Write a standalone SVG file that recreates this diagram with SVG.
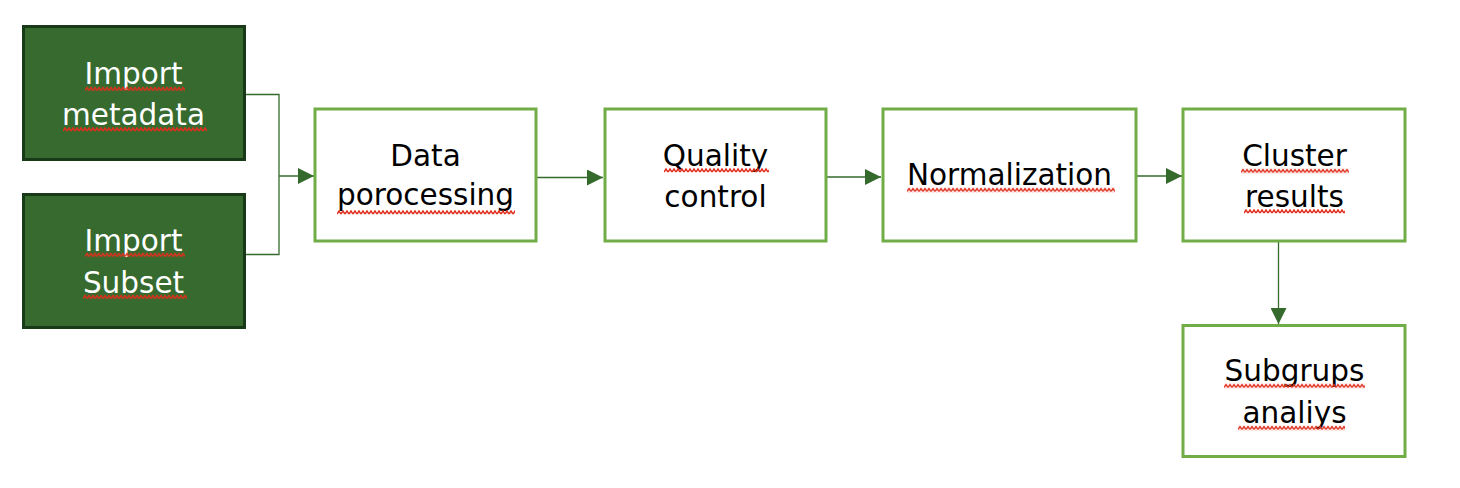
<svg xmlns="http://www.w3.org/2000/svg" width="1460" height="488" viewBox="0 0 1460 488">
<style>
.dark{fill:#366a2e;stroke:#193a17;stroke-width:3}
.box{fill:#fff;stroke:#70ad47;stroke-width:3}
.t{font-family:"DejaVu Sans","Liberation Sans",sans-serif;font-size:29.5px;text-anchor:middle;fill:#000}
.w{fill:#fff}
.con{fill:none;stroke:#356a2d;stroke-width:1.3}
.sq{fill:url(#wave)}
</style>
<defs>
<pattern id="wave" patternUnits="userSpaceOnUse" width="4" height="5">
<path d="M0,4 L2,1 L4,4" fill="none" stroke="#e0301e" stroke-width="1.5"/>
</pattern>
<marker id="ah" markerUnits="userSpaceOnUse" markerWidth="16" markerHeight="16" refX="16" refY="8" orient="auto">
<path d="M0,0 L16,8 L0,16 Z" fill="#356a2d"/>
</marker>
</defs>
<rect width="1460" height="488" fill="#fff"/>
<g id="connectors">
<path class="con" d="M245,94.5 H279 V254.5 H245"/>
<path class="con" d="M279,176 H314" marker-end="url(#ah)"/>
<path class="con" d="M537,177.5 H603" marker-end="url(#ah)"/>
<path class="con" d="M827,177 H881" marker-end="url(#ah)"/>
<path class="con" d="M1137,176 H1182" marker-end="url(#ah)"/>
<path class="con" d="M1278.5,242 V324" marker-end="url(#ah)"/>
</g>
<g id="import-metadata">
<rect class="dark" x="23.5" y="26.5" width="221" height="133"/>
<text class="t w" x="133.5" y="83.5">Import</text>
<text class="t w" x="133.5" y="124.5">metadata</text>
<g transform="translate(85,86.5)"><rect class="sq" width="100" height="5"/></g>
<g transform="translate(63,127)"><rect class="sq" width="144" height="5"/></g>
</g>
<g id="import-subset">
<rect class="dark" x="23.5" y="194.5" width="221" height="133"/>
<text class="t w" x="133.5" y="251">Import</text>
<text class="t w" x="133.5" y="293">Subset</text>
<g transform="translate(85,252.5)"><rect class="sq" width="100" height="5"/></g>
<g transform="translate(83,294.5)"><rect class="sq" width="104" height="5"/></g>
</g>
<g id="data-processing">
<rect class="box" x="315" y="109" width="221" height="132"/>
<text class="t" x="425.5" y="166">Data</text>
<text class="t" x="425.5" y="204.5">porocessing</text>
<g transform="translate(337,210)"><rect class="sq" width="178" height="5"/></g>
</g>
<g id="quality-control">
<rect class="box" x="605" y="109" width="221" height="132"/>
<text class="t" x="715.5" y="165.5">Quality</text>
<text class="t" x="715.5" y="207">control</text>
<g transform="translate(664,168)"><rect class="sq" width="105" height="5"/></g>
</g>
<g id="normalization">
<rect class="box" x="883" y="109" width="253" height="132"/>
<text class="t" x="1009.5" y="185">Normalization</text>
<g transform="translate(907,187.5)"><rect class="sq" width="208" height="5"/></g>
</g>
<g id="cluster-results">
<rect class="box" x="1183" y="109" width="222" height="132"/>
<text class="t" x="1294.5" y="166">Cluster</text>
<text class="t" x="1294.5" y="207">results</text>
<g transform="translate(1241,168.5)"><rect class="sq" width="108" height="5"/></g>
<g transform="translate(1244,209)"><rect class="sq" width="101" height="5"/></g>
</g>
<g id="subgroups-analysis">
<rect class="box" x="1183" y="325.5" width="222" height="131"/>
<text class="t" x="1294.5" y="380.5">Subgrups</text>
<text class="t" x="1294.5" y="423">analiys</text>
<g transform="translate(1224,383.5)"><rect class="sq" width="141" height="5"/></g>
<g transform="translate(1238,425.5)"><rect class="sq" width="107" height="5"/></g>
</g>
</svg>
